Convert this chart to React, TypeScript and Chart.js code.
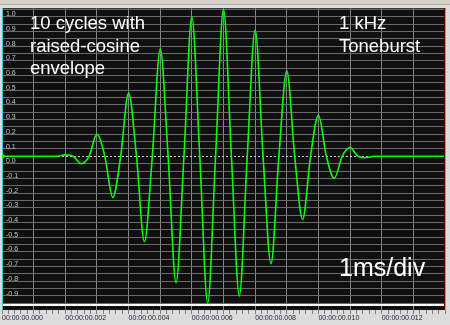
import React, { useEffect, useRef } from 'react';
import { Chart, registerables } from 'chart.js';
Chart.register(...registerables);

// Waveform: extrema every 0.5 ms and zero crossings between them
const timeMs = [0, 1.75, 2.0, 2.25, 2.5, 2.75, 3.0, 3.25, 3.5, 3.75, 4.0, 4.25, 4.5, 4.75, 5.0, 5.25, 5.5, 5.75, 6.0, 6.25, 6.5, 6.75, 7.0, 7.25, 7.5, 7.75, 8.0, 8.25, 8.5, 8.75, 9.0, 9.25, 9.5, 9.75, 10.0, 10.25, 10.5, 10.75, 11.0, 11.25, 11.5, 11.75, 14];
const amplitude = [0, 0, 0.01, 0, -0.05, 0, 0.15, 0, -0.28, 0, 0.43, 0, -0.58, 0, 0.73, 0, -0.86, 0, 0.95, 0, -1.0, 0, 1.0, 0, -0.95, 0, 0.86, 0, -0.73, 0, 0.58, 0, -0.43, 0, 0.28, 0, -0.15, 0, 0.06, 0, -0.01, 0, 0];

const xLabelValues = [0, 2, 4, 6, 8, 10, 12];
const xLabels = ['00:00:00.000', '00:00:00.002', '00:00:00.004', '00:00:00.006', '00:00:00.008', '00:00:00.010', '00:00:00.012'];
const yLabelValues = [1.0, 0.9, 0.8, 0.7, 0.6, 0.5, 0.4, 0.3, 0.2, 0.1, 0.0, -0.1, -0.2, -0.3, -0.4, -0.5, -0.6, -0.7, -0.8, -0.9];
const yLabels = ['1.0', '0.9', '0.8', '0.7', '0.6', '0.5', '0.4', '0.3', '0.2', '0.1', '0.0', '-0.1', '-0.2', '-0.3', '-0.4', '-0.5', '-0.6', '-0.7', '-0.8', '-0.9'];

const FONT = '"Liberation Sans", Arial, sans-serif';

const decor = {
  id: 'decor',
  beforeDraw(chart: any) {
    const { ctx, chartArea: a, width, height } = chart;
    ctx.save();
    ctx.fillStyle = '#dcdcdc';
    ctx.fillRect(0, 0, width, height);
    ctx.fillStyle = '#d4d0c8';
    ctx.fillRect(0, 0, width, 5);
    ctx.fillStyle = '#a8a8a8';
    ctx.fillRect(0, 4, width, 1);
    ctx.fillStyle = '#101010';
    ctx.fillRect(a.left, a.top, a.right - a.left, a.bottom - a.top);
    ctx.restore();
  },
  beforeDatasetsDraw(chart: any) {
    const { ctx, chartArea: a, scales } = chart;
    const y0 = Math.round(scales.y.getPixelForValue(0)) + 0.5;
    ctx.save();
    ctx.strokeStyle = '#c8c8c8';
    ctx.lineWidth = 1;
    ctx.setLineDash([2, 2]);
    ctx.beginPath();
    ctx.moveTo(a.left, y0);
    ctx.lineTo(a.right, y0);
    ctx.stroke();
    ctx.restore();
  },
  afterDatasetsDraw(chart: any) {
    const { ctx, chartArea: a, scales } = chart;
    ctx.save();
    ctx.fillStyle = '#ffffff';
    ctx.fillRect(a.left, a.bottom - 6, a.right - a.left, 2);
    ctx.fillStyle = '#30c8d0';
    ctx.fillRect(a.left, a.top, 1, a.bottom - a.top);
    ctx.fillRect(a.right, a.top, 1, a.bottom - a.top);
    ctx.fillStyle = '#600000';
    ctx.fillRect(a.right - 1, a.top, 1, a.bottom - a.top);
    const y0 = scales.y.getPixelForValue(0);
    ctx.fillStyle = '#00ff00';
    ctx.beginPath();
    ctx.moveTo(a.left, y0 - 3);
    ctx.lineTo(a.left + 4, y0);
    ctx.lineTo(a.left, y0 + 3);
    ctx.closePath();
    ctx.fill();
    ctx.restore();
  },
};

export default function App() {
  const ref = useRef<HTMLCanvasElement>(null);
  useEffect(() => {
    const xTicks: number[] = [];
    for (let i = 0; i <= 70; i++) xTicks.push(Math.round(i * 2) / 10);
    const yGrid: number[] = [];
    for (let i = -20; i <= 20; i++) yGrid.push(i / 20);
    const chart = new Chart(ref.current!, {
      type: 'line',
      data: {
        datasets: [
          {
            data: timeMs.map((t, i) => ({ x: t, y: amplitude[i] })),
            borderColor: '#00ff00',
            borderWidth: 1.6,
            pointRadius: 0,
            cubicInterpolationMode: 'monotone',
            fill: false,
          },
        ],
      },
      options: {
        animation: false,
        responsive: false,
        devicePixelRatio: 1,
        layout: { padding: { left: 2, right: 5, top: 5, bottom: 0 } },
        plugins: { legend: { display: false }, tooltip: { enabled: false } },
        scales: {
          x: {
            type: 'linear',
            min: 0,
            max: 14,
            afterBuildTicks: (s: any) => {
              s.ticks = xTicks.map((v) => ({ value: v }));
            },
            afterFit: (s: any) => {
              s.height = 15;
            },
            ticks: {
              autoSkip: false,
              maxRotation: 0,
              minRotation: 0,
              align: 'start',
              padding: 0,
              color: '#2a2040',
              font: { family: FONT, size: 7 },
              callback: (v: any) => {
                const i = xLabelValues.findIndex((x) => Math.abs(x - Number(v)) < 1e-6);
                return i >= 0 ? xLabels[i] : '';
              },
            },
            grid: {
              color: (c: any) => {
                const v = c.tick ? c.tick.value : 0.5;
                return Math.abs(v - Math.round(v)) < 1e-6 ? '#858585' : 'rgba(0,0,0,0)';
              },
              tickColor: '#808080',
              tickLength: 4,
              drawTicks: true,
            },
            border: { display: false },
          },
          y: {
            type: 'linear',
            min: -1.0458,
            max: 1.008,
            afterBuildTicks: (s: any) => {
              s.ticks = yGrid.map((v) => ({ value: v }));
            },
            afterFit: (s: any) => {
              s.width = 0;
            },
            ticks: {
              autoSkip: false,
              mirror: true,
              padding: 4,
              labelOffset: 5,
              color: '#c4c4d8',
              font: { family: FONT, size: 7 },
              callback: (v: any) => {
                const i = yLabelValues.findIndex((x) => Math.abs(x - Number(v)) < 1e-6);
                return i >= 0 ? yLabels[i] : '';
              },
            },
            grid: {
              color: (c: any) => {
                const v = c.tick ? c.tick.value : 1;
                return Math.abs(v) < 1e-6 ? 'rgba(0,0,0,0)' : '#6a6a6a';
              },
              drawTicks: false,
            },
            border: { display: false },
          },
        },
      },
      plugins: [decor],
    } as any);
    return () => chart.destroy();
  }, []);

  const txt: React.CSSProperties = {
    position: 'absolute',
    color: '#ffffff',
    fontFamily: FONT,
    fontSize: 18.5,
    lineHeight: '22.5px',
    whiteSpace: 'nowrap',
  };

  return (
    <div style={{ position: 'fixed', left: 0, top: 0, width: 450, height: 325, overflow: 'hidden' }}>
      <canvas ref={ref} width={450} height={325} style={{ display: 'block', width: 450, height: 325 }} />
      <div style={{ ...txt, left: 30, top: 12 }}>
        10 cycles with
        <br />
        raised-cosine
        <br />
        envelope
      </div>
      <div style={{ ...txt, left: 339, top: 12 }}>
        1 kHz
        <br />
        Toneburst
      </div>
      <div style={{ ...txt, left: 339, top: 252, fontSize: 25, lineHeight: '30px' }}>1ms/div</div>
    </div>
  );
}
